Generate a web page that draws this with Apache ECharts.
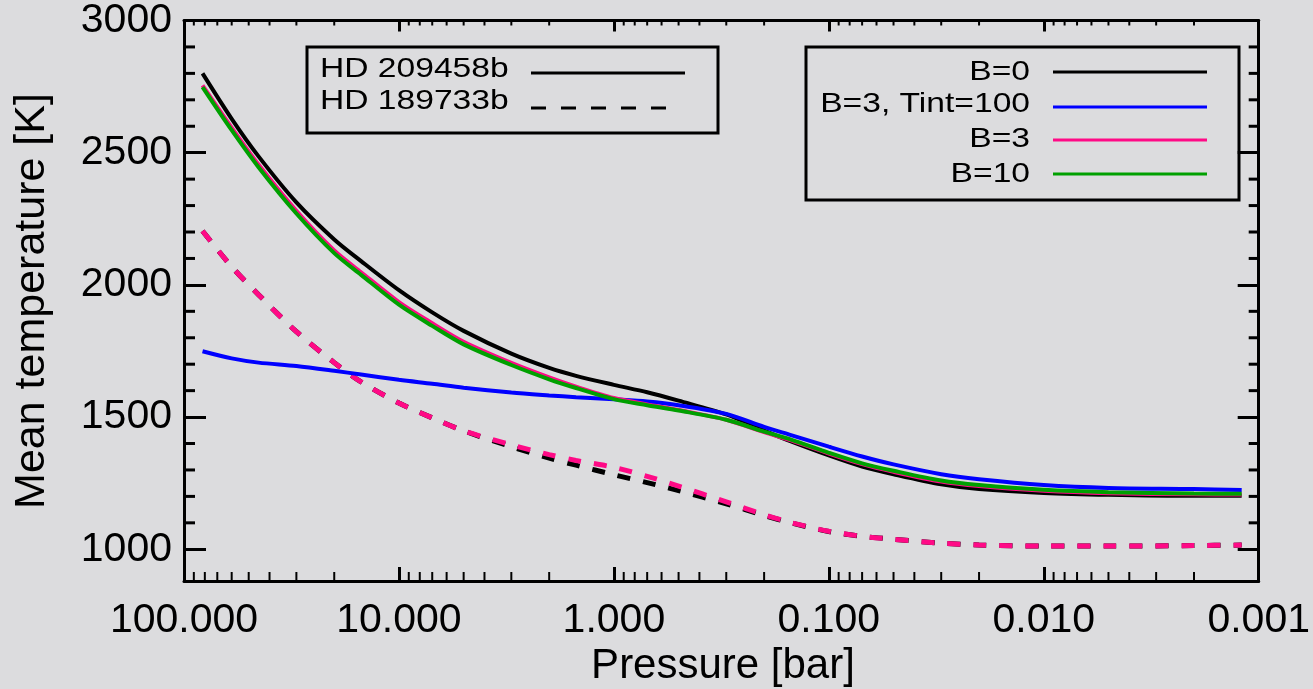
<!DOCTYPE html>
<html>
<head>
<meta charset="utf-8">
<script src="https://cdn.jsdelivr.net/npm/echarts@6/dist/echarts.min.js"></script>
<style>html,body{margin:0;padding:0;background:#dcdcde;}#c{width:1313px;height:689px;}</style>
</head>
<body>
<div id="c"></div>
<script>
// ---- data ----
const pressure = [82, 60, 45, 30, 20, 15, 10, 7, 5, 3, 2, 1.5, 1, 0.7, 0.5, 0.3, 0.2, 0.15, 0.1, 0.07, 0.05, 0.03, 0.02, 0.01, 0.005, 0.002, 0.0012];
const hd209_B0   = [2800, 2628, 2486, 2312, 2172, 2090, 1980, 1896, 1826, 1740, 1686, 1656, 1622, 1594, 1562, 1510, 1449, 1408, 1355, 1313, 1284, 1246, 1228, 1213, 1206, 1202, 1202];
const hd209_B3T  = [1749, 1722, 1706, 1693, 1675, 1661, 1641, 1626, 1611, 1593, 1582, 1575, 1567, 1559, 1545, 1512, 1463, 1432, 1388, 1351, 1321, 1284, 1265, 1243, 1232, 1228, 1224];
const hd209_B3   = [2755, 2595, 2455, 2280, 2130, 2048, 1935, 1855, 1785, 1705, 1650, 1615, 1572, 1548, 1527, 1490, 1443, 1412, 1362, 1322, 1293, 1256, 1239, 1221, 1212, 1208, 1207];
const hd209_B10  = [2748, 2585, 2445, 2270, 2120, 2038, 1925, 1845, 1775, 1697, 1643, 1610, 1568, 1545, 1525, 1490, 1445, 1415, 1365, 1325, 1297, 1260, 1243, 1225, 1216, 1211, 1210];
const hd189_B0   = [2204, 2069, 1963, 1823, 1706, 1633, 1553, 1497, 1448, 1388, 1345, 1318, 1282, 1252, 1222, 1172, 1128, 1100, 1067, 1049, 1038, 1023, 1016, 1012, 1012, 1014, 1016];
const hd189_B3   = [2204, 2069, 1963, 1823, 1706, 1633, 1553, 1497, 1448, 1395, 1358, 1336, 1310, 1276, 1239, 1179, 1131, 1101, 1068, 1049, 1038, 1023, 1016, 1012, 1012, 1014, 1016];
const xTickLabels = ['100.000', '10.000', '1.000', '0.100', '0.010', '0.001'];
const yTickLabels = ['1000', '1500', '2000', '2500', '3000'];
const legendModels = ['B=0', 'B=3, Tint=100', 'B=3', 'B=10'];
const legendPlanets = ['HD 209458b', 'HD 189733b'];

const X_MIN = 0.001, X_MAX = 100, Y_MIN = 880, Y_MAX = 3000;
const FONT = 'Liberation Sans';
const COLORS = ['#000000', '#0000ff', '#ff0a86', '#00a000'];

// minor tick positions
const xMinor = [];
for (let n = -3; n <= 1; n++) for (let k = 2; k <= 9; k++) xMinor.push([k * Math.pow(10, n), Y_MIN]);
const yMinor = [];
for (let v = 1100; v < 3000; v += 100) if (v % 500 !== 0) yMinor.push([X_MAX, v]);

function pairs(arr) { return pressure.map((p, i) => [p, arr[i]]); }

function lineSeries(name, arr, color, dashed) {
  return {
    type: 'line', name: name, data: pairs(arr), showSymbol: false, symbol: 'none',
    smooth: 0.3, xAxisIndex: 0, yAxisIndex: 0,
    lineStyle: { color: color, width: dashed ? 5 : 4, type: dashed ? [13, 13] : 'solid', cap: 'butt' },
    silent: true
  };
}

const chart = echarts.init(document.getElementById('c'), null, { renderer: 'canvas' });

const axisLineStyle = { color: '#000', width: 3 };
const xBase = {
  type: 'log', logBase: 10, min: X_MIN, max: X_MAX, inverse: true,
  splitLine: { show: false }, axisLine: { show: true, lineStyle: axisLineStyle }
};
const yBase = {
  type: 'value', min: Y_MIN, max: Y_MAX, splitNumber: 5,
  splitLine: { show: false }, axisLine: { show: true, lineStyle: axisLineStyle }
};

chart.setOption({
  backgroundColor: '#dcdcde',
  animation: false,
  grid: { left: 184, right: 52, top: 12, bottom: 108, containLabel: false },
  xAxis: [
    Object.assign({}, xBase, {
      position: 'bottom',
      axisTick: { show: true, inside: true, length: 14, lineStyle: { color: '#000', width: 3 } },
      axisLabel: {
        show: true, margin: 19, color: '#000', fontFamily: FONT, fontSize: 41,
        formatter: v => {
          const idx = Math.round(2 - Math.log10(v));
          return xTickLabels[idx] !== undefined ? xTickLabels[idx] : '';
        }
      }
    }),
    Object.assign({}, xBase, {
      position: 'top',
      axisTick: { show: true, inside: true, length: 11, lineStyle: { color: '#000', width: 3 } },
      axisLabel: { show: false }
    })
  ],
  yAxis: [
    Object.assign({}, yBase, {
      position: 'left',
      axisTick: { show: true, inside: true, length: 22, lineStyle: { color: '#000', width: 3 } },
      axisLabel: {
        show: true, margin: 12, color: '#000', fontFamily: FONT, fontSize: 41, showMinLabel: false,
        formatter: v => {
          const s = String(Math.round(v));
          return yTickLabels.indexOf(s) >= 0 ? s : '';
        }
      }
    }),
    Object.assign({}, yBase, {
      position: 'right',
      axisTick: { show: true, inside: true, length: 21, lineStyle: { color: '#000', width: 3 } },
      axisLabel: { show: false }
    })
  ],
  series: [
    lineSeries('HD 189733b B=0', hd189_B0, COLORS[0], true),
    lineSeries('HD 189733b B=3', hd189_B3, COLORS[2], true),
    lineSeries(legendModels[0], hd209_B0, COLORS[0], false),
    lineSeries(legendModels[1], hd209_B3T, COLORS[1], false),
    lineSeries(legendModels[2], hd209_B3, COLORS[2], false),
    lineSeries(legendModels[3], hd209_B10, COLORS[3], false),
    {
      type: 'custom', silent: true, clip: false, z: 10, xAxisIndex: 0, yAxisIndex: 0,
      data: xMinor, encode: { x: 0, y: 1 },
      renderItem: (params, api) => {
        const p = api.value(0);
        const b = api.coord([p, Y_MIN]);
        const t = api.coord([p, Y_MAX]);
        return { type: 'group', children: [
          { type: 'line', shape: { x1: b[0], y1: b[1], x2: b[0], y2: b[1] - 9 }, style: { stroke: '#000', lineWidth: 2 } },
          { type: 'line', shape: { x1: t[0], y1: t[1], x2: t[0], y2: t[1] + 5 }, style: { stroke: '#000', lineWidth: 2 } }
        ]};
      }
    },
    {
      type: 'custom', silent: true, clip: false, z: 10, xAxisIndex: 0, yAxisIndex: 0,
      data: yMinor, encode: { x: 0, y: 1 },
      renderItem: (params, api) => {
        const v = api.value(1);
        const l = api.coord([X_MAX, v]);
        const r = api.coord([X_MIN, v]);
        return { type: 'group', children: [
          { type: 'line', shape: { x1: l[0], y1: l[1], x2: l[0] + 11, y2: l[1] }, style: { stroke: '#000', lineWidth: 3 } },
          { type: 'line', shape: { x1: r[0], y1: r[1], x2: r[0] - 10, y2: r[1] }, style: { stroke: '#000', lineWidth: 3 } }
        ]};
      }
    }
  ],
  graphic: [
    { type: 'text', x: 723, y: 666, style: { text: 'Pressure [bar]', fontFamily: FONT, fontSize: 42, fill: '#000', align: 'center', verticalAlign: 'middle' } },
    { type: 'text', x: 32, y: 301, rotation: Math.PI / 2, style: { text: 'Mean temperature [K]', fontFamily: FONT, fontSize: 43, fill: '#000', align: 'center', verticalAlign: 'middle' } },
    // planet legend
    { type: 'rect', shape: { x: 307, y: 47, width: 411, height: 86 }, style: { fill: 'none', stroke: '#000', lineWidth: 3 }, z: 20 },
    { type: 'text', x: 320, y: 69, scaleX: 1.2, style: { text: legendPlanets[0], fontFamily: FONT, fontSize: 28, fill: '#000', align: 'left', verticalAlign: 'middle' }, z: 20 },
    { type: 'text', x: 320, y: 101, scaleX: 1.2, style: { text: legendPlanets[1], fontFamily: FONT, fontSize: 28, fill: '#000', align: 'left', verticalAlign: 'middle' }, z: 20 },
    { type: 'line', shape: { x1: 531, y1: 73, x2: 685, y2: 73 }, style: { stroke: '#000', lineWidth: 3 }, z: 20 },
    { type: 'line', shape: { x1: 531, y1: 108, x2: 680, y2: 108 }, style: { stroke: '#000', lineWidth: 3, lineDash: [15, 15] }, z: 20 },
    // model legend
    { type: 'rect', shape: { x: 806, y: 47, width: 433, height: 153 }, style: { fill: 'none', stroke: '#000', lineWidth: 3 }, z: 20 },
    { type: 'text', x: 1030, y: 72, scaleX: 1.2, style: { text: legendModels[0], fontFamily: FONT, fontSize: 28, fill: '#000', align: 'right', verticalAlign: 'middle' }, z: 20 },
    { type: 'text', x: 1030, y: 104, scaleX: 1.2, style: { text: legendModels[1], fontFamily: FONT, fontSize: 28, fill: '#000', align: 'right', verticalAlign: 'middle' }, z: 20 },
    { type: 'text', x: 1030, y: 139, scaleX: 1.2, style: { text: legendModels[2], fontFamily: FONT, fontSize: 28, fill: '#000', align: 'right', verticalAlign: 'middle' }, z: 20 },
    { type: 'text', x: 1030, y: 174, scaleX: 1.2, style: { text: legendModels[3], fontFamily: FONT, fontSize: 28, fill: '#000', align: 'right', verticalAlign: 'middle' }, z: 20 },
    { type: 'line', shape: { x1: 1053, y1: 72, x2: 1207, y2: 72 }, style: { stroke: COLORS[0], lineWidth: 3 }, z: 20 },
    { type: 'line', shape: { x1: 1053, y1: 107, x2: 1207, y2: 107 }, style: { stroke: COLORS[1], lineWidth: 3 }, z: 20 },
    { type: 'line', shape: { x1: 1053, y1: 140, x2: 1207, y2: 140 }, style: { stroke: COLORS[2], lineWidth: 3 }, z: 20 },
    { type: 'line', shape: { x1: 1053, y1: 174, x2: 1207, y2: 174 }, style: { stroke: COLORS[3], lineWidth: 3 }, z: 20 }
  ]
});
</script>
</body>
</html>
